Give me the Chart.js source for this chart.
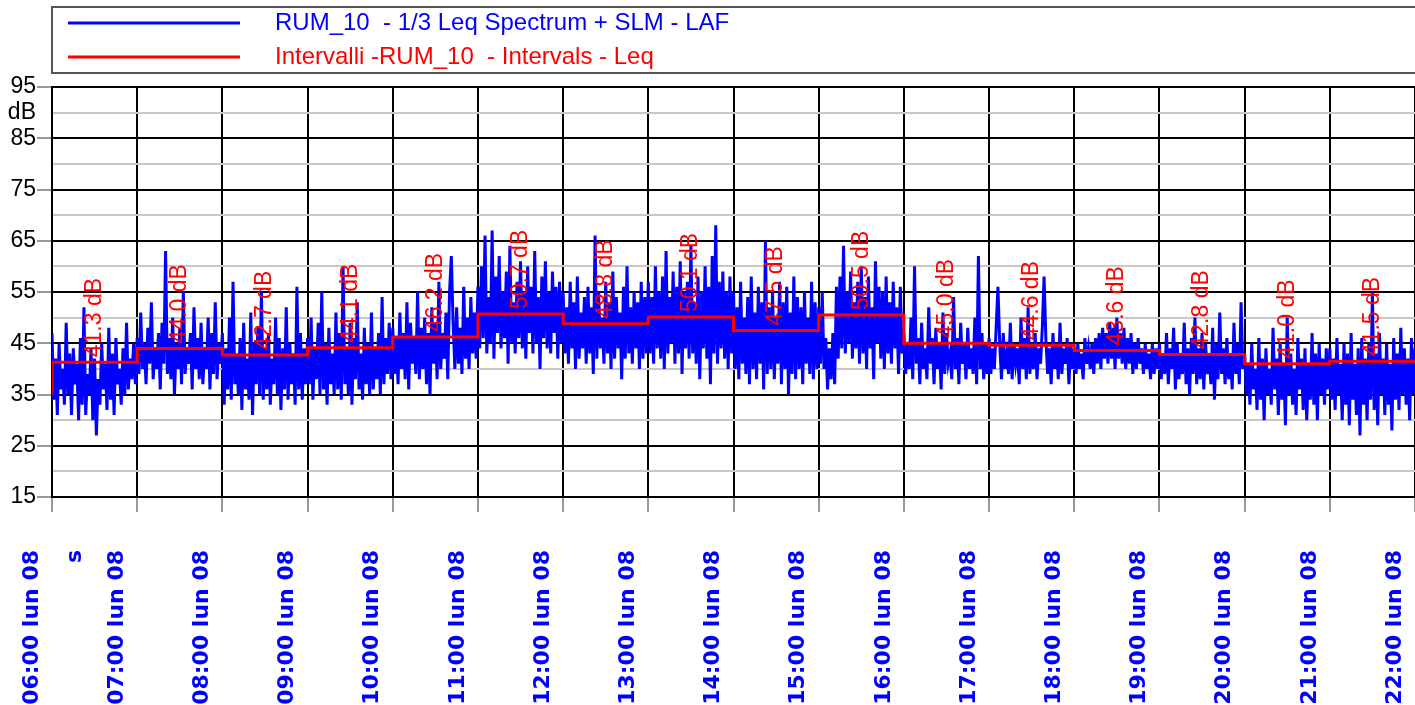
<!DOCTYPE html>
<html>
<head>
<meta charset="utf-8">
<script src="https://cdn.jsdelivr.net/npm/chart.js@4.4.1/dist/chart.umd.min.js"></script>
<style>
  html, body { margin: 0; padding: 0; background: #fff; }
</style>
</head>
<body>
<canvas id="myChart" width="1415" height="705"></canvas>
<script>
// hours on the x axis and their labels
var hours = [6, 7, 8, 9, 10, 11, 12, 13, 14, 15, 16, 17, 18, 19, 20, 21, 22];
var hourLabels = ['06:00 lun 08', '07:00 lun 08', '08:00 lun 08', '09:00 lun 08', '10:00 lun 08',
  '11:00 lun 08', '12:00 lun 08', '13:00 lun 08', '14:00 lun 08', '15:00 lun 08', '16:00 lun 08',
  '17:00 lun 08', '18:00 lun 08', '19:00 lun 08', '20:00 lun 08', '21:00 lun 08', '22:00 lun 08'];

// y grid: labelled lines every 10 dB, light lines in between
var yGrid = [15, 20, 25, 30, 35, 40, 45, 50, 55, 60, 65, 70, 75, 80, 85, 90, 95];
var yLabelled = [15, 25, 35, 45, 55, 65, 75, 85, 95];
var yUnit = 'dB', yUnitAt = 90;

// hourly Leq (red steps)
var intervalLeq = [41.3, 44.0, 42.7, 44.1, 46.2, 50.7, 48.8, 50.1, 47.5, 50.5, 45.0, 44.6, 43.6, 42.8, 41.0, 41.5];

// LAF, 48 values per hour
var lafStep = 1 / 48;
var laf = [
  // 06
  47,34,42,31,45,36,40,33,49,35,43,31, 44,37,41,30,46,33,52,31,39,35,44,30,
  42,27,38,33,45,36,41,32,48,34,43,31, 46,37,40,33,44,35,49,36,42,38,45,37,
  // 07
  46,39,51,40,45,37,48,41,53,38,44,40, 47,36,49,41,63,39,46,38,50,35,45,40,
  48,37,55,39,44,41,47,36,52,40,46,38, 49,37,44,40,50,36,47,39,53,38,45,41,
  // 08
  47,33,44,36,50,34,57,37,43,35,46,32, 49,36,42,34,51,31,45,37,48,35,55,34,
  44,36,47,33,42,37,50,35,46,32,44,36, 52,34,45,37,43,33,56,36,47,34,44,37,
  // 09
  46,37,50,34,44,38,49,35,55,36,45,33, 48,37,43,35,51,36,47,34,60,37,44,35,
  49,33,46,38,53,36,43,34,48,37,45,35, 51,36,44,38,47,35,54,37,46,39,49,38,
  // 10
  48,39,46,37,51,40,47,38,53,36,49,41, 46,39,55,38,48,40,50,37,47,35,52,41,
  49,38,57,40,47,42,51,38,55,62,49,40, 52,41,48,39,56,42,50,40,54,43,51,42,
  // 11
  56,44,60,46,66,43,54,45,67,42,58,47, 62,44,55,46,59,41,64,45,53,43,57,46,
  61,44,55,42,60,47,56,43,63,45,54,40, 58,46,61,44,55,43,59,47,56,42,57,45,
  // 12
  55,43,52,41,57,44,53,40,58,42,51,44, 54,41,56,43,52,39,66,42,55,44,50,41,
  57,43,53,40,59,42,54,44,51,38,56,42, 60,43,52,41,55,44,53,40,57,42,54,43,
  // 13
  57,43,54,41,60,44,55,42,58,40,63,43, 54,45,59,41,56,43,61,39,55,44,57,42,
  64,43,53,41,58,38,55,44,60,42,56,37, 62,43,68,41,57,44,59,42,55,40,58,43,
  // 14
  55,40,52,38,57,41,50,39,54,37,58,40, 51,38,56,41,53,36,65,39,52,40,55,38,
  50,41,57,37,53,40,56,35,51,39,58,38, 54,40,52,37,55,41,50,39,57,38,53,40,
  // 15
  52,41,55,40,46,36,44,38,47,37,56,42, 58,44,64,43,55,45,59,42,53,44,57,41,
  60,43,54,40,58,44,52,38,61,45,56,42, 55,40,58,43,53,41,57,44,52,39,56,43,
  // 16
  47,39,45,40,50,38,60,41,46,37,49,40, 44,38,52,41,46,37,48,40,45,36,51,39,
  47,41,43,38,54,40,46,37,49,41,45,38, 48,40,44,39,50,37,62,40,47,38,45,39,
  // 17
  46,39,44,40,48,56,45,38,47,40,43,39, 49,38,45,41,44,37,50,40,46,38,52,39,
  45,40,47,38,44,41,48,58,46,39,44,37, 47,40,45,38,49,39,44,41,46,37,45,40,
  // 18
  44,39,45,40,43,38,46,41,44,40,45,39, 46,41,47,40,48,42,47,41,49,42,48,40,
  50,42,47,41,48,40,46,41,47,39,45,40, 46,41,44,39,45,40,43,38,45,39,44,40,
  // 19
  45,38,43,39,47,37,44,40,48,36,45,38, 43,39,49,37,44,35,46,39,50,37,44,38,
  47,36,45,39,43,37,48,34,45,38,51,39, 44,37,46,38,43,36,49,39,45,37,53,40,
  // 20
  43,35,41,33,45,36,40,32,46,34,42,30, 44,35,40,33,48,36,42,31,45,34,41,29,
  50,35,43,33,40,31,46,36,42,32,44,30, 41,34,47,33,43,30,45,35,42,33,44,36,
  // 21
  44,34,42,32,46,35,41,30,45,33,43,29, 47,34,41,31,44,27,46,33,42,30,45,34,
  55,32,43,29,47,35,42,31,45,33,41,28, 46,34,43,32,48,35,44,33,42,30,46,35,
  // 22
  44
];

Chart.defaults.font.family = '"Liberation Sans", Arial, sans-serif';

var stepPoints = [{ x: hours[0], y: 35 }];
intervalLeq.forEach(function (v, i) { stepPoints.push({ x: hours[i], y: v }); });
stepPoints.push({ x: hours[hours.length - 1], y: intervalLeq[intervalLeq.length - 1] });

function isLabelled(v) { return yLabelled.indexOf(v) !== -1; }

// red "xx.x dB" texts + the little "s" unit
const intervalText = {
  id: 'intervalText',
  afterDatasetsDraw(chart) {
    const ctx = chart.ctx, x = chart.scales.x, y = chart.scales.y;
    ctx.save();
    ctx.fillStyle = '#ff0000';
    ctx.font = '23px "Liberation Sans"';
    ctx.textAlign = 'left';
    ctx.textBaseline = 'middle';
    intervalLeq.forEach(function (v, i) {
      ctx.save();
      ctx.translate(x.getPixelForValue(hours[i] + 0.5), y.getPixelForValue(v) - 5);
      ctx.rotate(-Math.PI / 2);
      ctx.fillText(v.toFixed(1) + ' dB', 0, 0);
      ctx.restore();
    });
    ctx.restore();
  },
  afterDraw(chart) {
    const ctx = chart.ctx, area = chart.chartArea;
    ctx.save();
    ctx.fillStyle = '#0000ff';
    ctx.font = 'bold 22px "DejaVu Sans"';
    ctx.textAlign = 'right';
    ctx.textBaseline = 'middle';
    ctx.translate(area.left + 23, 550);
    ctx.rotate(-Math.PI / 2);
    ctx.fillText('s', 0, 0);
    ctx.restore();
  }
};

// boxed legend with two stacked rows
const legendBox = {
  id: 'legendBox',
  afterDraw(chart) {
    const ctx = chart.ctx, left = chart.chartArea.left;
    ctx.save();
    ctx.strokeStyle = '#555';
    ctx.lineWidth = 2;
    ctx.strokeRect(left, 7, chart.width, 66);
    ctx.font = '24px "Liberation Sans"';
    ctx.textBaseline = 'middle';
    chart.data.datasets.forEach(function (ds, i) {
      const ly = 23 + i * 34;
      ctx.strokeStyle = ds.borderColor;
      ctx.lineWidth = 3;
      ctx.beginPath();
      ctx.moveTo(left + 16, ly);
      ctx.lineTo(left + 188, ly);
      ctx.stroke();
      ctx.fillStyle = ds.borderColor;
      ctx.fillText(ds.label, left + 223, ly);
    });
    ctx.restore();
  }
};

const ctx = document.getElementById('myChart');

var c = new Chart(ctx, {
  type: 'line',
  data: {
    datasets: [{
      label: 'RUM_10  - 1/3 Leq Spectrum + SLM - LAF',
      data: laf.map(function (v, i) { return { x: hours[0] + i * lafStep, y: v }; }),
      borderColor: '#0000ff',
      backgroundColor: '#0000ff',
      borderWidth: 3,
      pointRadius: 0,
      tension: 0,
      order: 1
    }, {
      label: 'Intervalli -RUM_10  - Intervals - Leq',
      data: stepPoints,
      borderColor: '#ff0000',
      backgroundColor: '#ff0000',
      borderWidth: 3,
      pointRadius: 0,
      stepped: true,
      order: 0
    }]
  },
  options: {
    responsive: false,
    animation: false,
    devicePixelRatio: 1,
    layout: { padding: { top: 87, left: 0, right: 0, bottom: 0 } },
    plugins: {
      legend: { display: false },
      tooltip: { enabled: false }
    },
    scales: {
      x: {
        type: 'linear',
        min: hours[0],
        max: hours[hours.length - 1],
        border: { display: true, color: '#000', width: 2 },
        grid: { color: '#000', lineWidth: 2, tickLength: 15, tickWidth: 1, tickColor: '#333' },
        ticks: {
          stepSize: 1,
          autoSkip: false,
          minRotation: 90,
          maxRotation: 90,
          labelOffset: -20,
          padding: 38,
          color: '#0000ff',
          font: { family: '"DejaVu Sans"', size: 22, weight: 'bold' },
          callback: function (value) { return hourLabels[value - hours[0]]; }
        },
        afterFit: function (s) { s.height = 208; s.paddingLeft = 0; s.paddingRight = 0; }
      },
      y: {
        min: yGrid[0],
        max: yGrid[yGrid.length - 1],
        border: { display: true, color: '#000', width: 2 },
        grid: {
          lineWidth: 2,
          tickLength: 15,
          tickWidth: 1,
          color: function (c) { return isLabelled(c.tick.value) ? '#000' : '#c8c8c8'; },
          tickColor: function (c) { return isLabelled(c.tick.value) ? '#333' : 'rgba(0,0,0,0)'; }
        },
        ticks: {
          autoSkip: false,
          padding: 1,
          color: '#000',
          font: { size: 23 },
          callback: function (value) {
            if (value === yUnitAt) return yUnit;
            return isLabelled(value) ? String(value) : '';
          }
        },
        afterBuildTicks: function (s) { s.ticks = yGrid.map(function (v) { return { value: v }; }); },
        afterFit: function (s) { s.width = 52; s.paddingTop = 0; s.paddingBottom = 0; }
      }
    }
  },
  plugins: [intervalText, legendBox]
});
</script>
</body>
</html>
